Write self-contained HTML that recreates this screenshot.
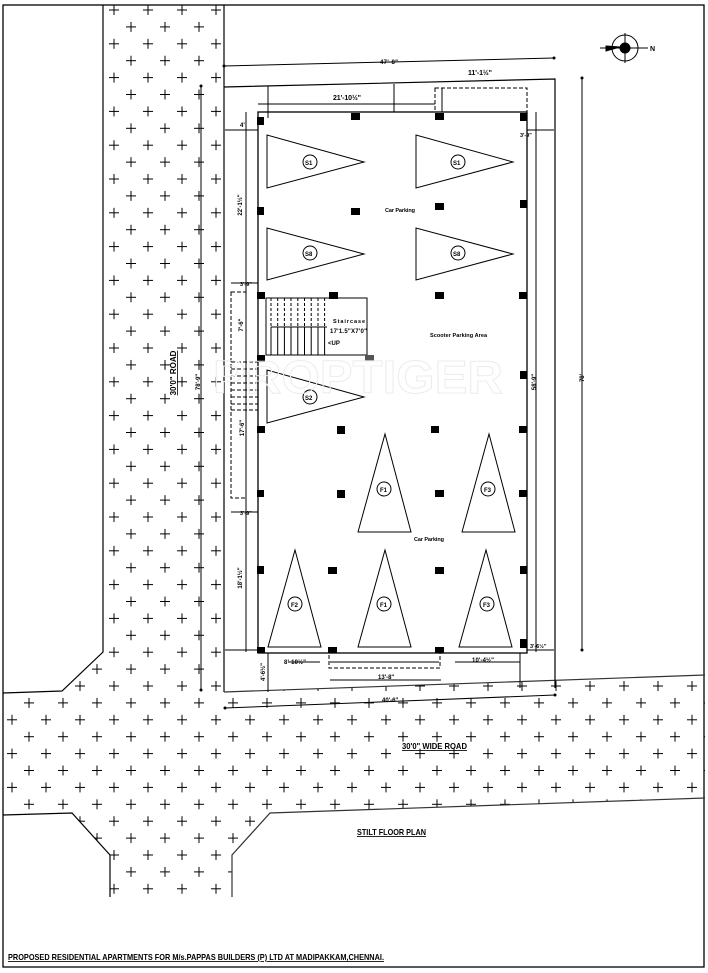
<!DOCTYPE html>
<html><head><meta charset="utf-8">
<style>
html,body{margin:0;padding:0;background:#fff;}
svg{display:block;}
text{font-family:"Liberation Sans",sans-serif;font-weight:bold;fill:#000;}
</style></head>
<body>
<svg width="708" height="973" viewBox="0 0 708 973" xmlns="http://www.w3.org/2000/svg">
<defs>
<pattern id="cr" x="12" y="10" width="34" height="33.8" patternUnits="userSpaceOnUse">
 <path d="M-5 0H5M0 -5V5M29 0H39M34 -5V5M-5 33.8H5M0 28.8V38.8M29 33.8H39M34 28.8V38.8M12 16.9H22M17 11.9V21.9" stroke="#000" stroke-width="1"/>
</pattern>
<clipPath id="rd">
 <path d="M103 5H224V692L705 675V798L270 813L232 855V897H110V855L72 813L3 815V693L62 691L103 652Z"/>
</clipPath>
</defs>
<rect width="708" height="973" fill="#fff"/>
<rect x="3" y="5" width="701" height="962" fill="none" stroke="#000" stroke-width="1.3"/>
<rect x="0" y="0" width="708" height="973" fill="url(#cr)" clip-path="url(#rd)"/>
<g fill="none" stroke="#000" stroke-width="1.2">
 <path d="M103 5V652L62 691L3 693"/>
 <path d="M224 5V692"/>
 <path d="M224 692L705 675" stroke="#333"/>
 <path d="M3 815L72 813L110 855V897"/>
 <path d="M232 897V855L270 813L705 798" stroke="#333"/>
</g>
<g fill="none" stroke="#000" stroke-width="1">
 <path d="M224 87L555 79V688" stroke-width="1.2"/>
 <path d="M224 66L554 58"/>
 <path d="M225 708L555 695"/>
 <path d="M201 86V690"/>
 <path d="M582 78V650"/>
 <path d="M246 112V652M536 112V652"/>
 <path d="M225 130H258M527 130H554"/>
 <path d="M225 650H258M527 650H554"/>
</g>
<g fill="#000">
 <circle cx="224" cy="66" r="1.5"/><circle cx="554" cy="58" r="1.5"/>
 <circle cx="201" cy="86" r="1.5"/><circle cx="201" cy="690" r="1.5"/>
 <circle cx="582" cy="78" r="1.5"/><circle cx="582" cy="650" r="1.5"/>
 <circle cx="225" cy="708" r="1.5"/><circle cx="555" cy="695" r="1.5"/>
</g>
<g fill="none" stroke="#000" stroke-width="1.3">
 <rect x="258" y="112" width="269" height="541"/>
</g>
<g fill="none" stroke="#000" stroke-width="1">
 <rect x="435" y="88" width="92" height="24" stroke-dasharray="4,2"/>
 <path d="M258 104H435M268 86V118M394 84V112M442 88V112M231 283H258M231 512H258M288 662H320M330 662H439M455 662H520"/>
 <rect x="329" y="653" width="111" height="15" stroke-dasharray="4,2"/>
 <path d="M330 680H441M268 653V692M520 653V688M536 650V620"/>
 <rect x="231" y="292" width="15" height="206" stroke-dasharray="4,2"/>
 <path d="M231 362H258M231 369H258M231 376H258M231 383H258M231 390H258M231 397H258M231 404H258M231 410H258" stroke-dasharray="4,2"/>
 <rect x="266" y="298" width="101" height="57"/>
 <path d="M271 327H327M271 327V355M277.7 327V355M284.4 327V355M291 327V355M297.8 327V355M304.5 327V355M311.2 327V355M318 327V355M324.6 327V355"/>
 <path d="M271 298V327M277.7 298V327M284.4 298V327M291 298V327M297.8 298V327M304.5 298V327M311.2 298V327M318 298V327M324.6 298V327" stroke-dasharray="3,2"/>
 <path d="M267 135L267 188L364 162Z M416 135L416 188L513 162Z M267 228L267 280L364 254Z M416 228L416 280L513 254Z M267 370L267 423L364 397Z"/>
 <path d="M385 434L358 532H411Z M489 434L462 532H515Z M295 550L268 647H321Z M385 550L358 647H411Z M486 550L459 647H512Z"/>
 <circle cx="310" cy="162" r="7"/><circle cx="458" cy="162" r="7"/>
 <circle cx="310" cy="253" r="7"/><circle cx="458" cy="253" r="7"/>
 <circle cx="310" cy="397" r="7"/>
 <circle cx="384" cy="489" r="7"/><circle cx="488" cy="489" r="7"/>
 <circle cx="295" cy="604" r="7"/><circle cx="384" cy="604" r="7"/><circle cx="487" cy="604" r="7"/>
</g>
<g fill="#000">
 <rect x="257" y="117" width="7" height="8"/><rect x="351" y="113" width="9" height="7"/><rect x="435" y="113" width="9" height="7"/><rect x="520" y="113" width="7" height="8"/>
 <rect x="257" y="207" width="7" height="8"/><rect x="351" y="208" width="9" height="7"/><rect x="435" y="203" width="9" height="7"/><rect x="520" y="200" width="7" height="8"/>
 <rect x="257" y="292" width="8" height="7"/><rect x="329" y="292" width="9" height="7"/><rect x="435" y="292" width="9" height="7"/><rect x="519" y="292" width="8" height="7"/>
 <rect x="257" y="355" width="8" height="7"/><rect x="365" y="355" width="9" height="6" fill="#555"/>
 <rect x="520" y="371" width="7" height="8"/>
 <rect x="257" y="426" width="8" height="7"/><rect x="337" y="426" width="8" height="8"/><rect x="431" y="426" width="8" height="7"/><rect x="519" y="426" width="8" height="7"/>
 <rect x="257" y="490" width="7" height="7"/><rect x="337" y="490" width="8" height="8"/><rect x="435" y="490" width="9" height="7"/><rect x="519" y="490" width="8" height="7"/>
 <rect x="257" y="566" width="7" height="8"/><rect x="328" y="567" width="9" height="7"/><rect x="435" y="567" width="9" height="7"/><rect x="520" y="566" width="7" height="8"/>
 <rect x="257" y="647" width="8" height="6"/><rect x="328" y="647" width="9" height="6"/><rect x="435" y="647" width="9" height="6"/><rect x="520" y="639" width="7" height="9"/>
</g>
<text x="213" y="393" font-size="46" font-weight="normal" stroke="#ececec" stroke-width="1" style="fill:none" textLength="290" lengthAdjust="spacingAndGlyphs">PROPTIGER</text>
<g font-size="6.5">
 <text x="305" y="165" font-size="6">S1</text><text x="453" y="165" font-size="6">S1</text>
 <text x="305" y="256" font-size="6">S8</text><text x="453" y="256" font-size="6">S8</text>
 <text x="305" y="400" font-size="6">S2</text>
 <text x="380" y="492" font-size="6">F1</text><text x="484" y="492" font-size="6">F3</text>
 <text x="291" y="607" font-size="6">F2</text><text x="380" y="607" font-size="6">F1</text><text x="483" y="607" font-size="6">F3</text>
 <text x="385" y="212" font-size="5.5" textLength="30">Car Parking</text>
 <text x="430" y="337" font-size="5.5" textLength="57">Scooter Parking Area</text>
 <text x="414" y="541" font-size="5.5" textLength="30">Car Parking</text>
 <text x="333" y="323" font-size="5.5" textLength="32">Staircase</text>
 <text x="330" y="333" font-size="6" font-weight="normal" textLength="37">17'1.5"X7'0"</text>
 <text x="328" y="345" font-size="6">&lt;UP</text>
 <text x="380" y="64" font-size="6" textLength="18">47'-8"</text>
 <text x="468" y="75" font-size="7" textLength="24">11'-1½"</text>
 <text x="333" y="100" font-size="7" textLength="28">21'-10½"</text>
 <text x="520" y="137" font-size="5.5">3'-9"</text>
 <text x="240" y="127" font-size="6">4'</text>
 <text x="240" y="286" font-size="5.5">3'-9"</text>
 <text x="240" y="515" font-size="5.5">3'-9"</text>
 <text x="284" y="664" font-size="6" textLength="22">8'-10½"</text>
 <text x="472" y="662" font-size="6" textLength="22">10'-4½"</text>
 <text x="530" y="648" font-size="5.5">3'-6½"</text>
 <text x="378" y="679" font-size="6">13'-8"</text>
 <text x="382" y="702" font-size="6">40'-6"</text>
 <text x="650" y="51" font-size="7">N</text>
</g>
<g font-size="6">
 <text transform="translate(242,205) rotate(-90)" text-anchor="middle">22'-1½"</text>
 <text transform="translate(243,325) rotate(-90)" text-anchor="middle">7'-6"</text>
 <text transform="translate(244,428) rotate(-90)" text-anchor="middle">17'-6"</text>
 <text transform="translate(242,578) rotate(-90)" text-anchor="middle">18'-1½"</text>
 <text transform="translate(200,382) rotate(-90)" text-anchor="middle">78'-9"</text>
 <text transform="translate(536,382) rotate(-90)" text-anchor="middle">58'-9"</text>
 <text transform="translate(584,378) rotate(-90)" text-anchor="middle">78'</text>
 <text transform="translate(265,672) rotate(-90)" text-anchor="middle">4'-6½"</text>
</g>
<text transform="translate(176,373) rotate(-90)" text-anchor="middle" font-size="8" text-decoration="underline">30'0" ROAD</text>
<g stroke="#000" fill="none">
 <circle cx="625" cy="48" r="13" stroke-width="1"/>
 <path d="M600 48H648M625 33V63" stroke-width="1"/>
 <circle cx="625" cy="48" r="5" fill="#000"/>
 <path d="M606 46L620 47L606 51Z" fill="#000"/>
</g>
<text x="402" y="749" font-size="8.5" font-weight="normal" text-decoration="underline" textLength="65" lengthAdjust="spacingAndGlyphs">30'0" WIDE ROAD</text>
<text x="357" y="835" font-size="8.5" font-weight="normal" text-decoration="underline" textLength="69" lengthAdjust="spacingAndGlyphs">STILT FLOOR PLAN</text>
<text x="8" y="960" font-size="8.5" font-weight="normal" text-decoration="underline" textLength="376" lengthAdjust="spacingAndGlyphs">PROPOSED RESIDENTIAL APARTMENTS FOR M/s.PAPPAS BUILDERS (P) LTD AT MADIPAKKAM,CHENNAI.</text>
</svg>
</body></html>
